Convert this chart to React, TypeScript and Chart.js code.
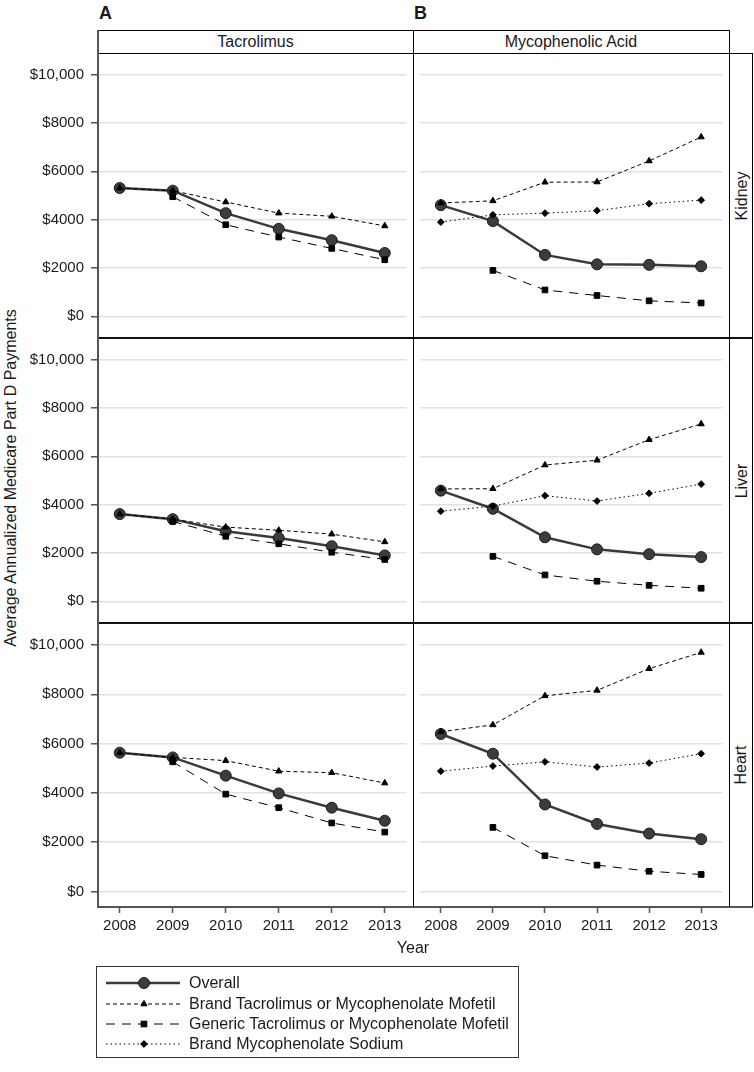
import React, { useEffect, useRef } from "react";
import { Chart, registerables } from "chart.js";

Chart.register(...registerables);
Chart.defaults.font.family = "'Liberation Sans', Arial, Helvetica, sans-serif";
Chart.defaults.color = "#1a1a1a";

// ---------------- data ----------------
const YEARS = [2008, 2009, 2010, 2011, 2012, 2013];
const GENERIC_YEARS = [2009, 2010, 2011, 2012, 2013];
const Y_TICKS = [0, 2000, 4000, 6000, 8000, 10000];
const ROW_LABELS = ["Kidney", "Liver", "Heart"];
const COL_LABELS = ["Tacrolimus", "Mycophenolic Acid"];
const PANEL_LETTERS = ["A", "B"];
const SERIES_NAMES = [
  "Overall",
  "Brand Tacrolimus or Mycophenolate Mofetil",
  "Generic Tacrolimus or Mycophenolate Mofetil",
  "Brand Mycophenolate Sodium",
];

// Kidney
const kidneyTacOverall = [5310, 5200, 4270, 3620, 3150, 2620];
const kidneyTacBrand = [5310, 5200, 4730, 4270, 4140, 3740];
const kidneyTacGeneric = [4950, 3790, 3280, 2810, 2340];
const kidneyMpaOverall = [4600, 3940, 2540, 2150, 2130, 2070];
const kidneyMpaBrand = [4690, 4780, 5550, 5560, 6430, 7420];
const kidneyMpaGeneric = [1900, 1090, 860, 640, 550];
const kidneyMpaSodium = [3900, 4200, 4270, 4370, 4660, 4810];
// Liver
const liverTacOverall = [3610, 3400, 2900, 2620, 2280, 1900];
const liverTacBrand = [3610, 3400, 3070, 2940, 2780, 2460];
const liverTacGeneric = [3310, 2690, 2380, 2030, 1730];
const liverMpaOverall = [4580, 3830, 2650, 2150, 1950, 1830];
const liverMpaBrand = [4650, 4660, 5640, 5840, 6690, 7340];
const liverMpaGeneric = [1860, 1090, 830, 660, 540];
const liverMpaSodium = [3730, 3940, 4370, 4150, 4470, 4850];
// Heart
const heartTacOverall = [5630, 5440, 4700, 3980, 3400, 2870];
const heartTacBrand = [5630, 5440, 5310, 4880, 4820, 4400];
const heartTacGeneric = [5260, 3950, 3400, 2780, 2410];
const heartMpaOverall = [6390, 5590, 3530, 2740, 2350, 2120];
const heartMpaBrand = [6480, 6760, 7940, 8160, 9040, 9700];
const heartMpaGeneric = [2600, 1450, 1070, 820, 690];
const heartMpaSodium = [4880, 5090, 5260, 5050, 5210, 5590];

const PANEL_DATA: (number[] | null)[][][] = [
  [
    [kidneyTacOverall, kidneyTacBrand, kidneyTacGeneric, null],
    [kidneyMpaOverall, kidneyMpaBrand, kidneyMpaGeneric, kidneyMpaSodium],
  ],
  [
    [liverTacOverall, liverTacBrand, liverTacGeneric, null],
    [liverMpaOverall, liverMpaBrand, liverMpaGeneric, liverMpaSodium],
  ],
  [
    [heartTacOverall, heartTacBrand, heartTacGeneric, null],
    [heartMpaOverall, heartMpaBrand, heartMpaGeneric, heartMpaSodium],
  ],
];

// ---------------- styles / layout ----------------
const FONT = "'Liberation Sans', Arial, Helvetica, sans-serif";
const X_MIN = 2007.59;
const X_MAX = 2013.41;
const Y_MIN = -630;
const Y_MAX = 10630;

const COL_LEFT = [98, 413];
const COL_RIGHT = [413, 729];
const ROW_TOP = [53, 338, 623];
const ROW_BOTTOM = [338, 623, 907];
const STRIP_TOP = 30;
const STRIP_RIGHT = 753;
const AXIS_GRAY = "#555555";
const TEXT_SIZE = 16;
const TICK_SIZE = 15;

const SERIES_STYLE = [
  {
    borderColor: "#3a3a3a",
    borderWidth: 2.5,
    borderDash: [] as number[],
    pointStyle: "circle",
    pointRadius: 5.5,
    pointBackgroundColor: "#3c3c3c",
    pointBorderColor: "#1c1c1c",
    pointBorderWidth: 1,
    order: 10,
  },
  {
    borderColor: "#000000",
    borderWidth: 1,
    borderDash: [4, 3],
    pointStyle: "triangle",
    pointRadius: 3.6,
    pointBackgroundColor: "#000000",
    pointBorderColor: "#000000",
    pointBorderWidth: 1,
    order: 3,
  },
  {
    borderColor: "#000000",
    borderWidth: 1,
    borderDash: [9, 7],
    pointStyle: "rect",
    pointRadius: 4,
    pointBackgroundColor: "#000000",
    pointBorderColor: "#000000",
    pointBorderWidth: 1,
    order: 2,
  },
  {
    borderColor: "#000000",
    borderWidth: 1,
    borderDash: [1.5, 3],
    pointStyle: "rectRot",
    pointRadius: 3.4,
    pointBackgroundColor: "#000000",
    pointBorderColor: "#000000",
    pointBorderWidth: 1,
    order: 1,
  },
];

function toPoints(years: number[], values: number[]) {
  return values.map((v, i) => ({ x: years[i], y: v }));
}

function formatDollar(v: number) {
  return v >= 10000 ? "$" + v.toLocaleString("en-US") : "$" + v;
}

type PanelProps = { row: number; col: number };

function Panel({ row, col }: PanelProps) {
  const ref = useRef<HTMLCanvasElement | null>(null);
  const showY = col === 0;
  const showX = row === 2;
  const canvasLeft = showY ? 20 : COL_LEFT[col];
  const yWidth = COL_LEFT[col] - canvasLeft;
  const areaH = ROW_BOTTOM[row] - ROW_TOP[row];
  const xHeight = showX ? 40 : 0;
  const width = COL_RIGHT[col] - canvasLeft;
  const height = areaH + xHeight;

  useEffect(() => {
    const series = PANEL_DATA[row][col];
    const datasets: any[] = [];
    series.forEach((vals, si) => {
      if (!vals) return;
      const years = si === 2 ? GENERIC_YEARS : YEARS;
      const st = SERIES_STYLE[si];
      datasets.push({
        label: SERIES_NAMES[si],
        data: toPoints(years, vals),
        ...st,
        fill: false,
        tension: 0,
        clip: false,
      });
    });
    const chart = new Chart(ref.current as HTMLCanvasElement, {
      type: "line",
      data: { datasets },
      options: {
        animation: false,
        responsive: false,
        maintainAspectRatio: false,
        devicePixelRatio: 1,
        layout: { padding: 0 },
        plugins: {
          legend: { display: false },
          tooltip: { enabled: false },
        },
        events: [],
        scales: {
          x: {
            type: "linear",
            min: X_MIN,
            max: X_MAX,
            display: showX,
            afterBuildTicks: (s: any) => {
              s.ticks = YEARS.map((v) => ({ value: v }));
            },
            afterFit: (s: any) => {
              s.height = xHeight;
              s.paddingLeft = 0;
              s.paddingRight = 0;
            },
            border: { display: false },
            grid: {
              drawOnChartArea: false,
              drawTicks: true,
              tickLength: 6,
              tickColor: AXIS_GRAY,
              tickWidth: 1.5,
            },
            ticks: {
              font: { size: TICK_SIZE, family: FONT },
              color: "#1a1a1a",
              padding: 4,
              maxRotation: 0,
              autoSkip: false,
              callback: (v: any) => String(v),
            },
          },
          y: {
            type: "linear",
            min: Y_MIN,
            max: Y_MAX,
            display: true,
            afterBuildTicks: (s: any) => {
              s.ticks = Y_TICKS.map((v) => ({ value: v }));
            },
            afterFit: (s: any) => {
              s.width = yWidth;
              s.paddingTop = 0;
              s.paddingBottom = 0;
            },
            border: { display: false },
            grid: {
              color: "#e2e2e2",
              lineWidth: 1.5,
              drawTicks: showY,
              tickLength: 7,
              tickColor: AXIS_GRAY,
              tickWidth: 1.5,
            },
            ticks: {
              display: showY,
              font: { size: TICK_SIZE, family: FONT },
              color: "#1a1a1a",
              padding: 7,
              autoSkip: false,
              callback: (v: any) => formatDollar(Number(v)),
            },
          },
        },
      } as any,
    });
    return () => chart.destroy();
  }, []);

  return (
    <canvas
      ref={ref}
      width={width}
      height={height}
      style={{ position: "absolute", left: canvasLeft, top: ROW_TOP[row], width, height }}
    />
  );
}

function HLine({ x1, x2, y, w = 1, color = "#000" }: any) {
  return (
    <div
      style={{
        position: "absolute",
        left: x1,
        top: y - w / 2,
        width: x2 - x1,
        height: w,
        background: color,
        pointerEvents: "none",
      }}
    />
  );
}
function VLine({ y1, y2, x, w = 1, color = "#000" }: any) {
  return (
    <div
      style={{
        position: "absolute",
        left: x - w / 2,
        top: y1,
        width: w,
        height: y2 - y1,
        background: color,
        pointerEvents: "none",
      }}
    />
  );
}

function LegendSymbol({ index, cy }: { index: number; cy: number }) {
  const st = SERIES_STYLE[index];
  const x1 = 9;
  const x2 = 83;
  const mx = 47;
  let marker: React.ReactNode = null;
  if (index === 0) {
    marker = <circle cx={mx} cy={cy} r={5.5} fill="#3c3c3c" stroke="#1c1c1c" strokeWidth={1} />;
  } else if (index === 1) {
    const r = 3.6;
    marker = (
      <polygon
        points={`${mx},${cy - r} ${mx + r * 0.866},${cy + r * 0.5} ${mx - r * 0.866},${cy + r * 0.5}`}
        fill="#000"
        stroke="#000"
        strokeWidth={1}
      />
    );
  } else if (index === 2) {
    marker = <rect x={mx - 2.8} y={cy - 2.8} width={5.6} height={5.6} fill="#000" stroke="#000" strokeWidth={1} />;
  } else {
    const r = 3.4;
    marker = (
      <polygon
        points={`${mx},${cy - r} ${mx + r},${cy} ${mx},${cy + r} ${mx - r},${cy}`}
        fill="#000"
        stroke="#000"
        strokeWidth={1}
      />
    );
  }
  return (
    <g>
      <line
        x1={x1}
        x2={x2}
        y1={cy}
        y2={cy}
        stroke={st.borderColor}
        strokeWidth={st.borderWidth}
        strokeDasharray={st.borderDash.length ? st.borderDash.join(" ") : undefined}
      />
      {marker}
    </g>
  );
}

export default function App() {
  const legendLeft = 96;
  const legendTop = 966;
  const legendW = 423;
  const legendH = 92;
  const rowCenters = [17, 38, 58, 78];

  return (
    <div
      style={{
        position: "absolute",
        left: 0,
        top: 0,
        width: 754,
        height: 1072,
        background: "#fff",
        fontFamily: FONT,
        color: "#1a1a1a",
        overflow: "hidden",
      }}
    >
      {/* panel letters */}
      {PANEL_LETTERS.map((L, i) => (
        <div
          key={L}
          style={{
            position: "absolute",
            left: COL_LEFT[i] + 1,
            top: 3.8,
            fontSize: 18,
            lineHeight: "18px",
            fontWeight: "bold",
          }}
        >
          {L}
        </div>
      ))}

      {/* charts */}
      {[0, 1, 2].map((r) =>
        [0, 1].map((c) => <Panel key={r + "-" + c} row={r} col={c} />)
      )}

      {/* top strips */}
      {COL_LABELS.map((lab, i) => (
        <div
          key={lab}
          style={{
            position: "absolute",
            left: COL_LEFT[i],
            top: STRIP_TOP,
            width: COL_RIGHT[i] - COL_LEFT[i],
            height: ROW_TOP[0] - STRIP_TOP,
            display: "flex",
            alignItems: "center",
            justifyContent: "center",
            fontSize: TEXT_SIZE,
            background: "#fff",
          }}
        >
          {lab}
        </div>
      ))}

      {/* right strips */}
      {ROW_LABELS.map((lab, i) => {
        const h = ROW_BOTTOM[i] - ROW_TOP[i];
        const cx = (COL_RIGHT[1] + STRIP_RIGHT) / 2;
        const cy = (ROW_TOP[i] + ROW_BOTTOM[i]) / 2;
        return (
          <div
            key={lab}
            style={{
              position: "absolute",
              left: cx - h / 2,
              top: cy - 9,
              width: h,
              height: 18,
              lineHeight: "18px",
              textAlign: "center",
              fontSize: TEXT_SIZE,
              transform: "rotate(-90deg)",
              transformOrigin: "50% 50%",
              whiteSpace: "nowrap",
            }}
          >
            {lab}
          </div>
        );
      })}

      {/* frame lines */}
      <HLine x1={COL_LEFT[0]} x2={COL_RIGHT[1]} y={STRIP_TOP + 0.5} w={1} />
      <HLine x1={COL_LEFT[0]} x2={STRIP_RIGHT} y={ROW_TOP[0] + 0.5} w={1} />
      <HLine x1={COL_LEFT[0]} x2={STRIP_RIGHT} y={ROW_TOP[1]} w={2} color="#111" />
      <HLine x1={COL_LEFT[0]} x2={STRIP_RIGHT} y={ROW_TOP[2]} w={2} color="#111" />
      <HLine x1={COL_LEFT[0]} x2={STRIP_RIGHT} y={ROW_BOTTOM[2]} w={2} color={AXIS_GRAY} />
      <VLine x={COL_RIGHT[0] + 0.5} y1={STRIP_TOP} y2={ROW_BOTTOM[2]} w={1} />
      <VLine x={COL_RIGHT[1] + 0.5} y1={STRIP_TOP} y2={ROW_BOTTOM[2]} w={1} />
      <VLine x={STRIP_RIGHT - 0.5} y1={ROW_TOP[0]} y2={ROW_BOTTOM[2]} w={1} />
      <VLine x={COL_LEFT[0]} y1={STRIP_TOP} y2={ROW_BOTTOM[2] + 1} w={2} color={AXIS_GRAY} />

      {/* axis titles */}
      <div
        style={{
          position: "absolute",
          left: 11 - 300,
          top: 478 - 9,
          width: 600,
          height: 18,
          lineHeight: "18px",
          textAlign: "center",
          fontSize: TEXT_SIZE,
          transform: "rotate(-90deg)",
          transformOrigin: "50% 50%",
          whiteSpace: "nowrap",
        }}
      >
        Average Annualized Medicare Part D Payments
      </div>
      <div
        style={{
          position: "absolute",
          left: 413 - 100,
          top: 948 - 9,
          width: 200,
          height: 18,
          lineHeight: "18px",
          textAlign: "center",
          fontSize: TEXT_SIZE,
        }}
      >
        Year
      </div>

      {/* legend */}
      <div
        style={{
          position: "absolute",
          left: legendLeft,
          top: legendTop,
          width: legendW,
          height: legendH,
          boxSizing: "border-box",
          border: "1px solid #333",
          background: "#fff",
        }}
      >
        <svg
          width={90}
          height={legendH}
          style={{ position: "absolute", left: 0, top: 0 }}
        >
          {SERIES_NAMES.map((_, i) => (
            <LegendSymbol key={i} index={i} cy={rowCenters[i] - 1} />
          ))}
        </svg>
        {SERIES_NAMES.map((name, i) => (
          <div
            key={name}
            style={{
              position: "absolute",
              left: 92,
              top: rowCenters[i] - 1 - 9,
              height: 18,
              lineHeight: "18px",
              fontSize: TEXT_SIZE,
              whiteSpace: "nowrap",
            }}
          >
            {name}
          </div>
        ))}
      </div>
    </div>
  );
}
